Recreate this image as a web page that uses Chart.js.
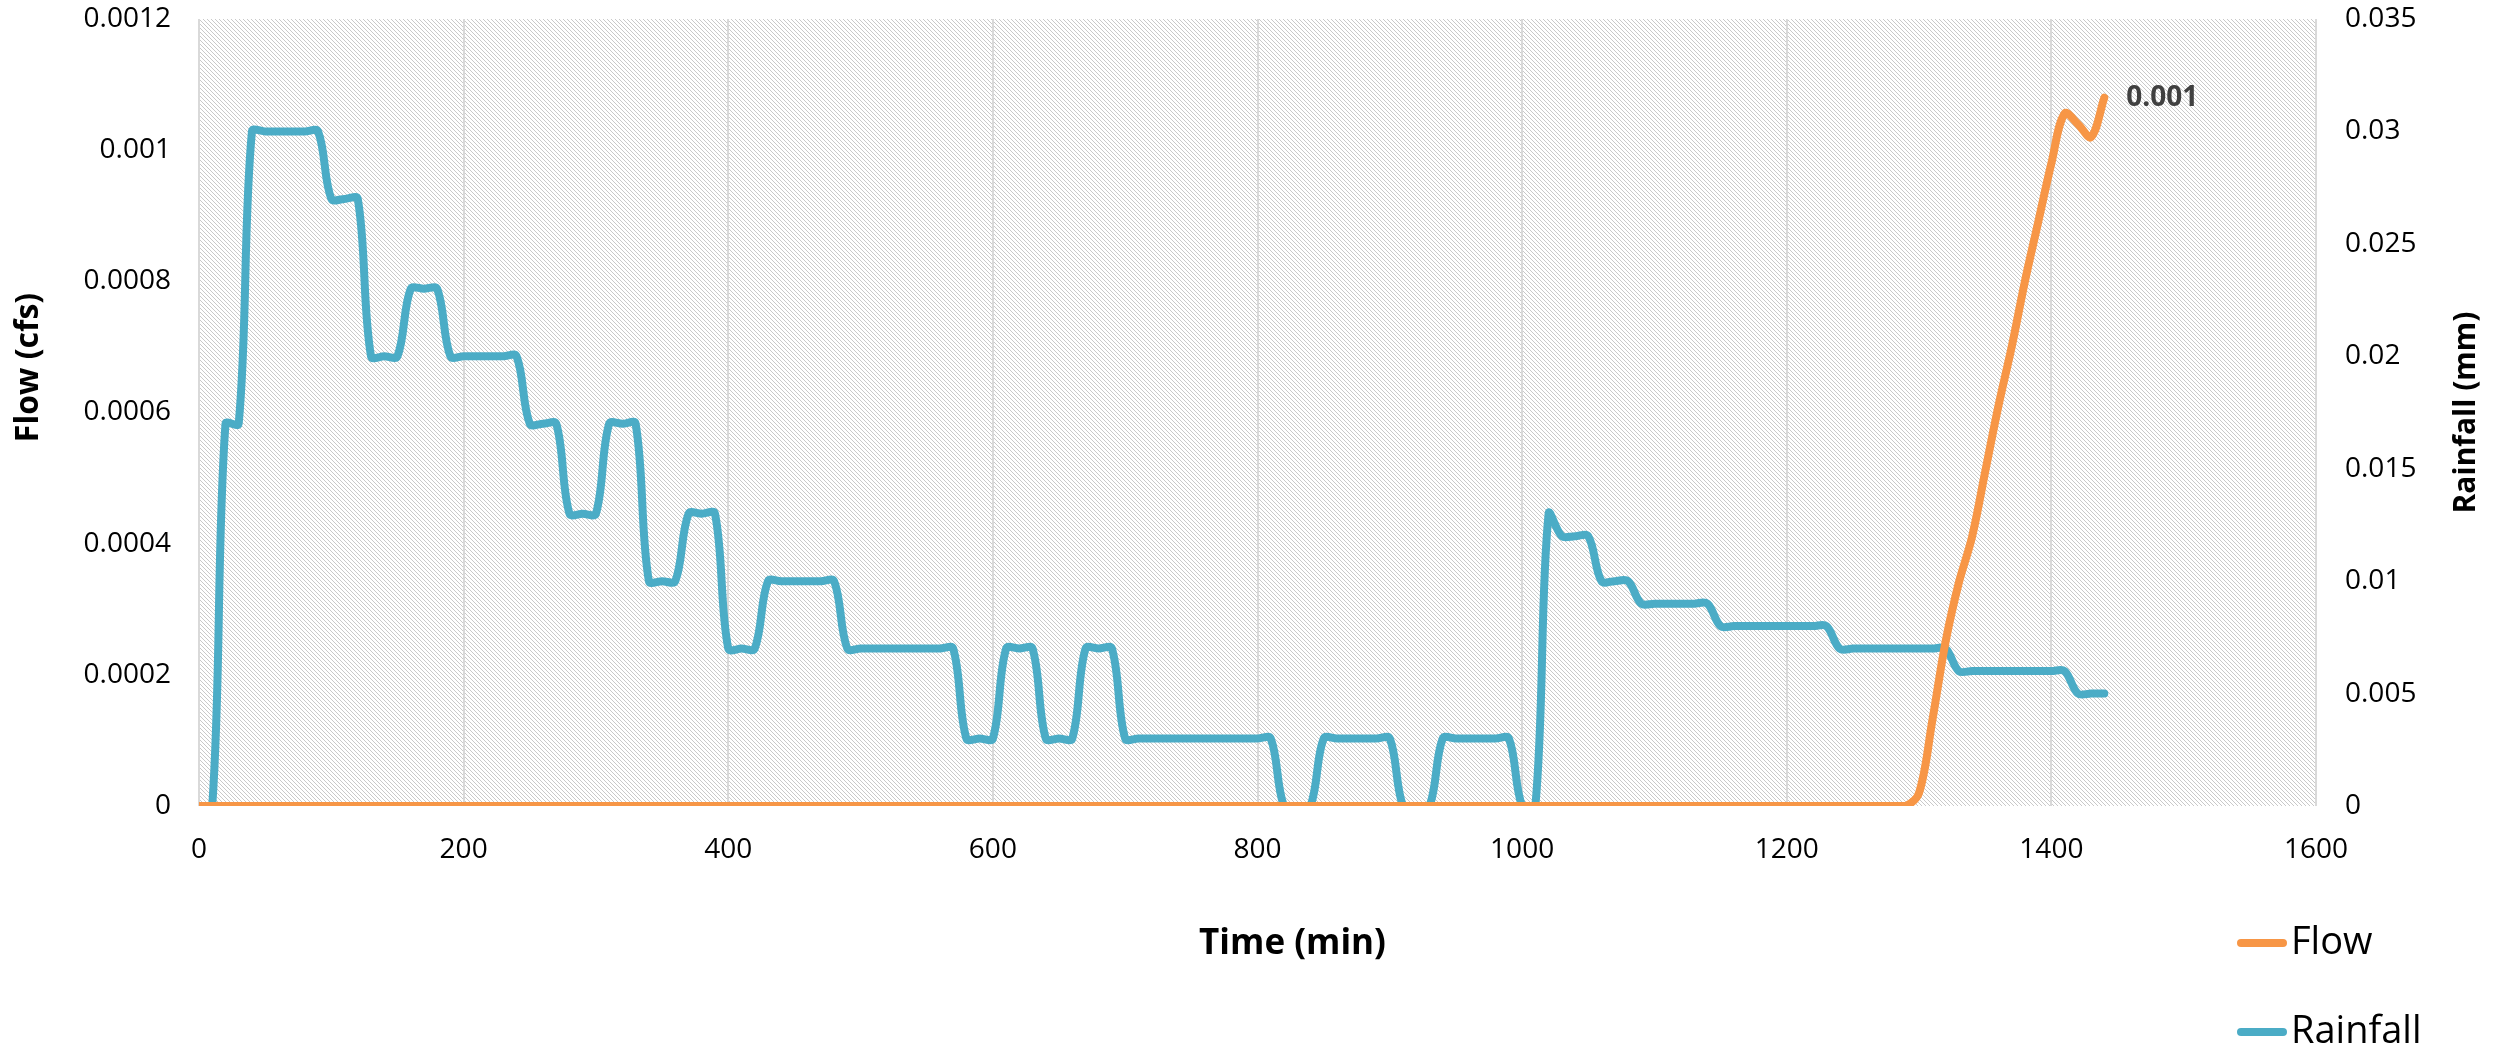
<!DOCTYPE html>
<html>
<head>
<meta charset="utf-8">
<title>Flow and Rainfall</title>
<script src="https://cdn.jsdelivr.net/npm/chart.js@4.4.1/dist/chart.umd.min.js"></script>
<style>
  html, body { margin: 0; padding: 0; background: #fff; }
  #wrap { width: 2501px; height: 1053px; position: relative; }
</style>
</head>
<body>
<div id="wrap"><canvas id="chartFlow"></canvas></div>
<script>
// time (min), one value every 10 minutes
const times = [
    0, 10, 20, 30, 40, 50, 60, 70, 80, 90,
    100, 110, 120, 130, 140, 150, 160, 170, 180, 190,
    200, 210, 220, 230, 240, 250, 260, 270, 280, 290,
    300, 310, 320, 330, 340, 350, 360, 370, 380, 390,
    400, 410, 420, 430, 440, 450, 460, 470, 480, 490,
    500, 510, 520, 530, 540, 550, 560, 570, 580, 590,
    600, 610, 620, 630, 640, 650, 660, 670, 680, 690,
    700, 710, 720, 730, 740, 750, 760, 770, 780, 790,
    800, 810, 820, 830, 840, 850, 860, 870, 880, 890,
    900, 910, 920, 930, 940, 950, 960, 970, 980, 990,
    1000, 1010, 1020, 1030, 1040, 1050, 1060, 1070, 1080, 1090,
    1100, 1110, 1120, 1130, 1140, 1150, 1160, 1170, 1180, 1190,
    1200, 1210, 1220, 1230, 1240, 1250, 1260, 1270, 1280, 1290,
    1300, 1310, 1320, 1330, 1340, 1350, 1360, 1370, 1380, 1390,
    1400, 1410, 1420, 1430, 1440
];

// flow (cfs)
const flow = [
    0, 0, 0, 0, 0, 0, 0, 0, 0, 0,
    0, 0, 0, 0, 0, 0, 0, 0, 0, 0,
    0, 0, 0, 0, 0, 0, 0, 0, 0, 0,
    0, 0, 0, 0, 0, 0, 0, 0, 0, 0,
    0, 0, 0, 0, 0, 0, 0, 0, 0, 0,
    0, 0, 0, 0, 0, 0, 0, 0, 0, 0,
    0, 0, 0, 0, 0, 0, 0, 0, 0, 0,
    0, 0, 0, 0, 0, 0, 0, 0, 0, 0,
    0, 0, 0, 0, 0, 0, 0, 0, 0, 0,
    0, 0, 0, 0, 0, 0, 0, 0, 0, 0,
    0, 0, 0, 0, 0, 0, 0, 0, 0, 0,
    0, 0, 0, 0, 0, 0, 0, 0, 0, 0,
    0, 0, 0, 0, 0, 0, 0, 0, 0, 0,
    0.00002, 0.00013, 0.00025, 0.00034, 0.00041, 0.00051, 0.00061, 0.00070, 0.00080, 0.00089,
    0.00098, 0.001056, 0.00104, 0.00102, 0.00108
];

// rainfall (mm)
const rainfall = [
    0, 0, 0.017, 0.017, 0.030, 0.030, 0.030, 0.030, 0.030, 0.030,
    0.027, 0.027, 0.027, 0.020, 0.020, 0.020, 0.023, 0.023, 0.023, 0.020,
    0.020, 0.020, 0.020, 0.020, 0.020, 0.017, 0.017, 0.017, 0.013, 0.013,
    0.013, 0.017, 0.017, 0.017, 0.010, 0.010, 0.010, 0.013, 0.013, 0.013,
    0.007, 0.007, 0.007, 0.010, 0.010, 0.010, 0.010, 0.010, 0.010, 0.007,
    0.007, 0.007, 0.007, 0.007, 0.007, 0.007, 0.007, 0.007, 0.003, 0.003,
    0.003, 0.007, 0.007, 0.007, 0.003, 0.003, 0.003, 0.007, 0.007, 0.007,
    0.003, 0.003, 0.003, 0.003, 0.003, 0.003, 0.003, 0.003, 0.003, 0.003,
    0.003, 0.003, 0, 0, 0, 0.003, 0.003, 0.003, 0.003, 0.003,
    0.003, 0, 0, 0, 0.003, 0.003, 0.003, 0.003, 0.003, 0.003,
    0, 0, 0.013, 0.012, 0.012, 0.012, 0.010, 0.010, 0.010, 0.009,
    0.009, 0.009, 0.009, 0.009, 0.009, 0.008, 0.008, 0.008, 0.008, 0.008,
    0.008, 0.008, 0.008, 0.008, 0.007, 0.007, 0.007, 0.007, 0.007, 0.007,
    0.007, 0.007, 0.007, 0.006, 0.006, 0.006, 0.006, 0.006, 0.006, 0.006,
    0.006, 0.006, 0.005, 0.005, 0.005
];

// tick labels
const timeTicks = [0, 200, 400, 600, 800, 1000, 1200, 1400, 1600];
const flowTicks = [0, 0.0002, 0.0004, 0.0006, 0.0008, 0.001, 0.0012];
const rainTicks = [0, 0.005, 0.01, 0.015, 0.02, 0.025, 0.03, 0.035];

Chart.defaults.font.family = "'Open Sans', sans-serif";
Chart.defaults.color = '#000';

// light downward-diagonal hatch for the plot area
const hatchTile = document.createElement('canvas');
hatchTile.width = 4;
hatchTile.height = 4;
(function () {
    const g = hatchTile.getContext('2d');
    g.fillStyle = '#fff';
    g.fillRect(0, 0, 4, 4);
    g.fillStyle = '#c9c9c9';
    for (let i = 0; i < 4; i++) {
        g.fillRect(i, i, 1, 1);
    }
})();

const hatchPlugin = {
    id: 'hatch',
    beforeDraw(chart) {
        const {ctx, chartArea: a} = chart;
        ctx.save();
        ctx.fillStyle = ctx.createPattern(hatchTile, 'repeat');
        ctx.fillRect(a.left, a.top, a.right - a.left, a.bottom - a.top);
        ctx.restore();
    }
};

// axis titles, legend and the end label of the flow line
const extrasPlugin = {
    id: 'extras',
    afterDraw(chart) {
        const {ctx, chartArea: a} = chart;
        ctx.save();
        ctx.fillStyle = '#000';
        ctx.textBaseline = 'middle';
        ctx.textAlign = 'center';
        ctx.font = "bold 35px 'Open Sans'";
        ctx.fillText('Time (min)', (a.left + a.right) / 2 + 35, a.bottom + 138);

        ctx.font = "bold 32px 'Open Sans'";
        ctx.save();
        ctx.translate(29, (a.top + a.bottom) / 2 - 45);
        ctx.rotate(-Math.PI / 2);
        ctx.fillText('Flow (cfs)', 0, 0);
        ctx.restore();

        ctx.font = "bold 30px 'Open Sans'";
        ctx.save();
        ctx.translate(2466, (a.top + a.bottom) / 2);
        ctx.rotate(-Math.PI / 2);
        ctx.fillText('Rainfall (mm)', 0, 0);
        ctx.restore();

        // legend
        ctx.textAlign = 'left';
        ctx.font = "38px 'Open Sans'";
        ctx.lineCap = 'round';
        chart.data.datasets.forEach((ds, i) => {
            const y = a.bottom + 137 + i * 89;
            ctx.strokeStyle = ds.borderColor;
            ctx.lineWidth = 8;
            ctx.beginPath();
            ctx.moveTo(2241, y);
            ctx.lineTo(2283, y);
            ctx.stroke();
            ctx.fillStyle = '#000';
            ctx.fillText(ds.label, 2291, y);
        });

        // value label at the last flow point
        const meta = chart.getDatasetMeta(0);
        const pt = meta.data[meta.data.length - 1];
        ctx.fillStyle = '#404040';
        ctx.font = "bold 28px 'Open Sans'";
        ctx.fillText(flow[flow.length - 1].toFixed(3), pt.x + 22, pt.y);
        ctx.restore();
    }
};

const trim = (v, d) => String(parseFloat(Number(v).toFixed(d)));

// fixed axis boxes so the plot area lands where the original has it
const fixWidth = w => s => {
    s.width = w;
    s.paddingTop = 0;
    s.paddingBottom = 0;
};

const ctxFlow = document.getElementById('chartFlow');
const chartFlow = new Chart(ctxFlow, {
    type: 'line',
    data: {
        datasets: [{
            label: 'Flow',
            data: times.map((t, i) => ({x: t, y: flow[i]})),
            yAxisID: 'y',
            borderColor: '#F79646',
            backgroundColor: '#F79646',
            borderWidth: 8,
            borderCapStyle: 'round',
            borderJoinStyle: 'round',
            pointRadius: 0,
            tension: 0.35
        }, {
            label: 'Rainfall',
            data: times.map((t, i) => ({x: t, y: rainfall[i]})),
            yAxisID: 'y1',
            borderColor: '#4BACC6',
            backgroundColor: '#4BACC6',
            borderWidth: 8,
            borderCapStyle: 'round',
            borderJoinStyle: 'round',
            pointRadius: 0,
            tension: 0.35
        }]
    },
    options: {
        responsive: true,
        maintainAspectRatio: false,
        animation: false,
        layout: {
            padding: {top: 19, left: 0, right: 0, bottom: 0}
        },
        plugins: {
            legend: {display: false},
            tooltip: {enabled: false}
        },
        scales: {
            x: {
                type: 'linear',
                min: 0,
                max: 1600,
                afterBuildTicks: s => { s.ticks = timeTicks.map(v => ({value: v})); },
                afterFit: s => { s.height = 247; },
                grid: {color: '#d9d9d9', lineWidth: 2, drawTicks: false},
                border: {display: false},
                ticks: {
                    padding: 27,
                    font: {size: 28},
                    callback: v => String(v)
                }
            },
            y: {
                position: 'left',
                min: 0,
                max: 0.0012,
                afterBuildTicks: s => { s.ticks = flowTicks.map(v => ({value: v})); },
                afterFit: fixWidth(199),
                grid: {display: false, drawTicks: false},
                border: {display: false},
                ticks: {
                    padding: 28,
                    font: {size: 28},
                    callback: v => trim(v, 4)
                }
            },
            y1: {
                position: 'right',
                min: 0,
                max: 0.035,
                afterBuildTicks: s => { s.ticks = rainTicks.map(v => ({value: v})); },
                afterFit: fixWidth(185),
                grid: {display: false, drawTicks: false},
                border: {display: false},
                ticks: {
                    padding: 29,
                    font: {size: 28},
                    callback: v => trim(v, 3)
                }
            }
        }
    },
    plugins: [hatchPlugin, extrasPlugin]
});
</script>
</body>
</html>
